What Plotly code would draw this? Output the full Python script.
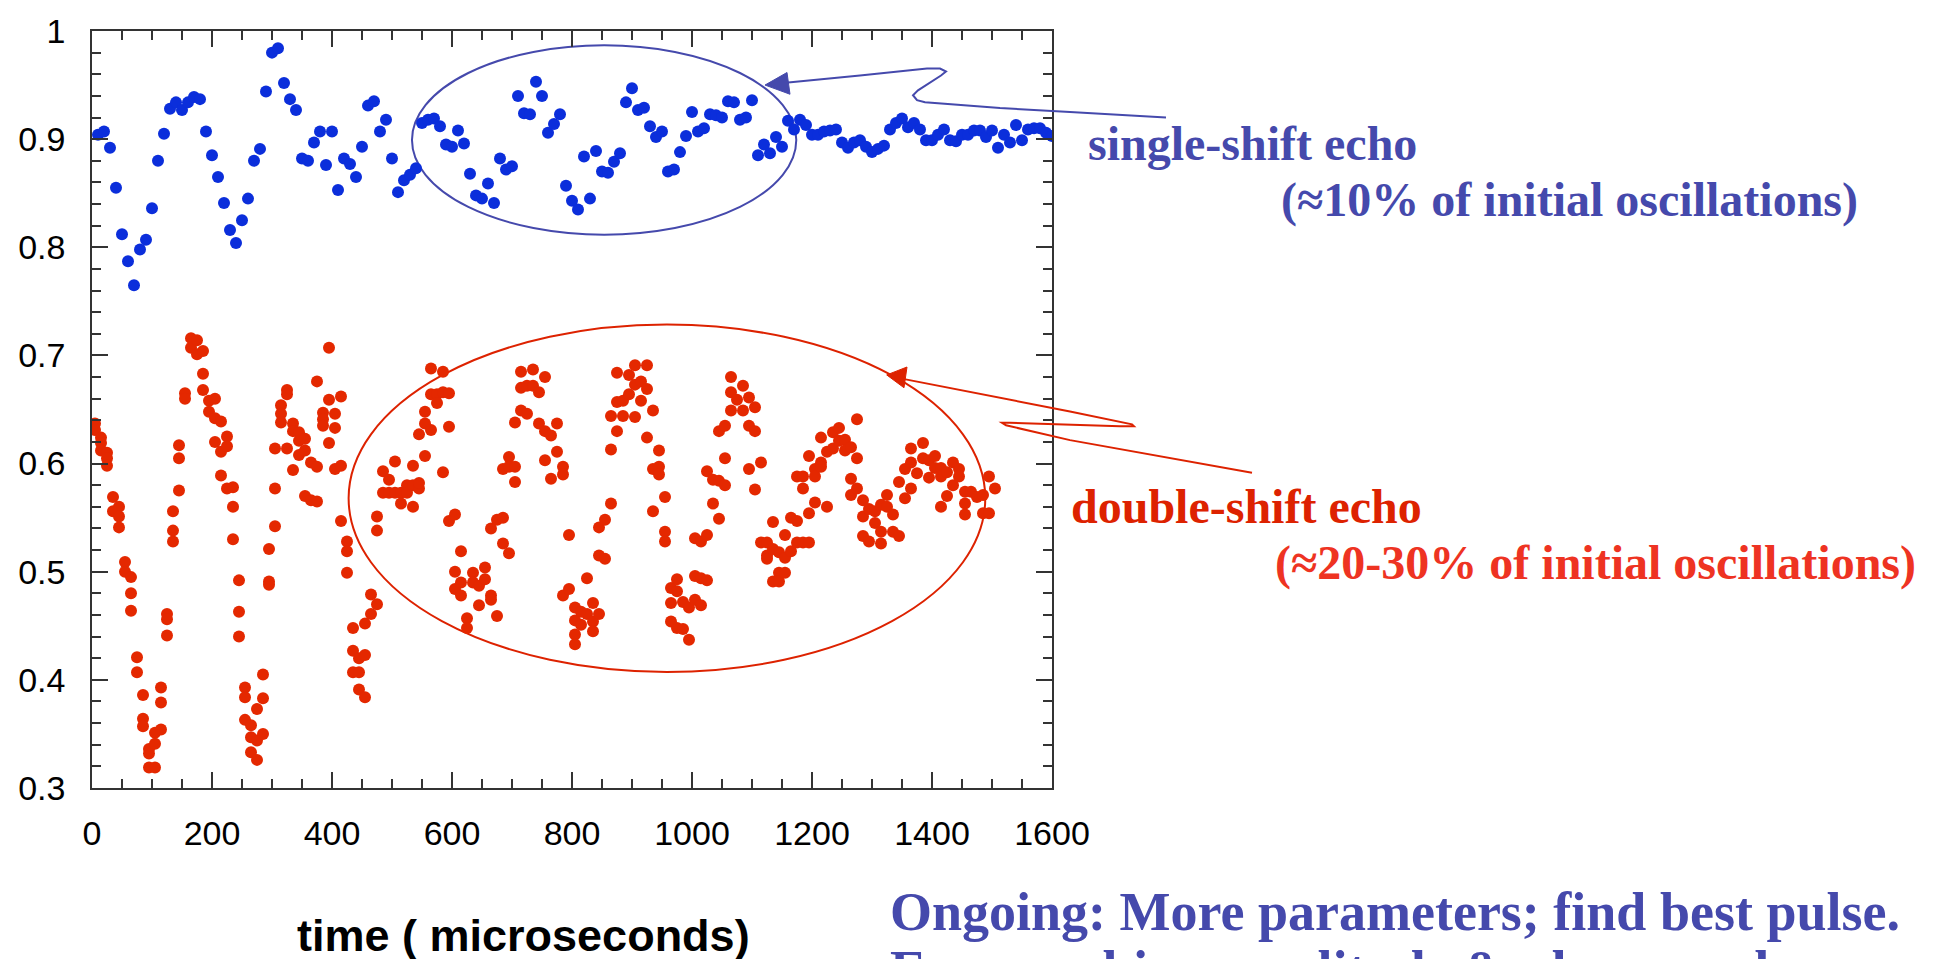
import plotly.graph_objects as go

# ---------------- data ----------------
blue_t = [10, 20, 30, 40, 50, 60, 70, 80, 90, 100, 110, 120, 130, 140, 150, 160, 170, 180, 190, 200,
          210, 220, 230, 240, 250, 260, 270, 280, 290, 300, 310, 320, 330, 340, 350, 360, 370, 380, 390, 400,
          410, 420, 430, 440, 450, 460, 470, 480, 490, 500, 510, 520, 530, 540, 550, 560, 570, 580, 590, 600,
          610, 620, 630, 640, 650, 660, 670, 680, 690, 700, 710, 720, 730, 740, 750, 760, 770, 780, 790, 800,
          810, 820, 830, 840, 850, 860, 870, 880, 890, 900, 910, 920, 930, 940, 950, 960, 970, 980, 990, 1000,
          1010, 1020, 1030, 1040, 1050, 1060, 1070, 1080, 1090, 1100, 1110, 1120, 1130, 1140, 1150, 1160, 1170, 1180, 1190, 1200,
          1210, 1220, 1230, 1240, 1250, 1260, 1270, 1280, 1290, 1300, 1310, 1320, 1330, 1340, 1350, 1360, 1370, 1380, 1390, 1400,
          1410, 1420, 1430, 1440, 1450, 1460, 1470, 1480, 1490, 1500, 1510, 1520, 1530, 1540, 1550, 1560, 1570, 1580, 1590, 1600]
blue_v = [0.904, 0.907, 0.892, 0.855, 0.812, 0.787, 0.765, 0.798, 0.807, 0.836, 0.880, 0.905, 0.928, 0.934, 0.927, 0.934, 0.939, 0.937, 0.907, 0.885,
          0.865, 0.841, 0.816, 0.804, 0.825, 0.845, 0.880, 0.891, 0.944, 0.980, 0.984, 0.952, 0.937, 0.927, 0.882, 0.880, 0.897, 0.907, 0.876, 0.907,
          0.853, 0.882, 0.877, 0.865, 0.893, 0.931, 0.935, 0.907, 0.918, 0.882, 0.851, 0.862, 0.867, 0.873, 0.915, 0.918, 0.919, 0.912, 0.895, 0.893,
          0.908, 0.896, 0.868, 0.848, 0.845, 0.859, 0.841, 0.882, 0.872, 0.875, 0.940, 0.924, 0.923, 0.953, 0.940, 0.906, 0.914, 0.923, 0.857, 0.843,
          0.835, 0.884, 0.845, 0.889, 0.870, 0.869, 0.879, 0.887, 0.934, 0.947, 0.927, 0.929, 0.912, 0.902, 0.907, 0.870, 0.872, 0.888, 0.903, 0.925,
          0.907, 0.910, 0.923, 0.922, 0.920, 0.935, 0.934, 0.918, 0.920, 0.936, 0.885, 0.895, 0.887, 0.902, 0.893, 0.917, 0.909, 0.918, 0.913, 0.904,
          0.904, 0.907, 0.908, 0.909, 0.897, 0.892, 0.897, 0.899, 0.893, 0.888, 0.891, 0.894, 0.909, 0.915, 0.919, 0.911, 0.915, 0.909, 0.899, 0.899,
          0.904, 0.909, 0.899, 0.898, 0.904, 0.904, 0.908, 0.908, 0.902, 0.908, 0.892, 0.904, 0.897, 0.913, 0.899, 0.909, 0.910, 0.910, 0.906, 0.903]

# red: measurement times and the values recorded at each time
red_cols = [5, 15, 25, 35, 45, 55, 65, 75, 85, 95, 105, 115, 125, 135, 145, 155, 165, 175, 185, 195,
            205, 215, 225, 235, 245, 255, 265, 275, 285, 295, 305, 315, 325, 335, 345, 355, 365, 375, 385, 395,
            405, 415, 425, 435, 445, 455, 465, 475, 485, 495, 505, 515, 525, 535, 545, 555, 565, 575, 585, 595,
            605, 615, 625, 635, 645, 655, 665, 675, 685, 695, 705, 715, 725, 735, 745, 755, 765, 775, 785, 795,
            805, 815, 825, 835, 845, 855, 865, 875, 885, 895, 905, 915, 925, 935, 945, 955, 965, 975, 985, 995,
            1005, 1015, 1025, 1035, 1045, 1055, 1065, 1075, 1085, 1095, 1105, 1115, 1125, 1135, 1145, 1155, 1165, 1175, 1185, 1195,
            1205, 1215, 1225, 1235, 1245, 1255, 1265, 1275, 1285, 1295, 1305, 1315, 1325, 1335, 1345, 1355, 1365, 1375, 1385, 1395,
            1405, 1415, 1425, 1435, 1445, 1455, 1465, 1475, 1485, 1495, 1505]
red_vals = [
    [0.637, 0.631], [0.624, 0.619, 0.612], [0.610, 0.605, 0.598], [0.569, 0.556], [0.560, 0.551, 0.541],
    [0.509, 0.500], [0.495, 0.480, 0.464], [0.421, 0.407], [0.386, 0.364, 0.357], [0.336, 0.332, 0.319],
    [0.319, 0.351, 0.341], [0.393, 0.379, 0.354], [0.461, 0.456, 0.441], [0.556, 0.538, 0.528], [0.617, 0.605, 0.575],
    [0.665, 0.660], [0.716, 0.707], [0.714, 0.701], [0.704, 0.683, 0.668], [0.658, 0.648],
    [0.660, 0.642, 0.620], [0.639, 0.611, 0.589], [0.625, 0.616, 0.577], [0.578, 0.560, 0.530], [0.492, 0.463, 0.440],
    [0.393, 0.384, 0.363], [0.358, 0.347, 0.333], [0.373, 0.344, 0.326], [0.405, 0.383, 0.350], [0.521, 0.491, 0.488],
    [0.614, 0.577, 0.542], [0.654, 0.646, 0.638], [0.668, 0.664, 0.614], [0.637, 0.630, 0.594], [0.629, 0.621, 0.608],
    [0.623, 0.612, 0.570], [0.601, 0.566], [0.676, 0.597, 0.565], [0.647, 0.641, 0.635], [0.707, 0.659, 0.619],
    [0.646, 0.633, 0.595], [0.662, 0.598, 0.547], [0.528, 0.519, 0.499], [0.448, 0.427, 0.407], [0.420, 0.407, 0.391],
    [0.452, 0.423, 0.384], [0.479, 0.461], [0.551, 0.538, 0.470], [0.593, 0.573], [0.585, 0.573],
    [0.602, 0.573], [0.573, 0.563], [0.580, 0.573], [0.598, 0.560, 0.580], [0.627, 0.577, 0.582],
    [0.648, 0.637, 0.607], [0.631, 0.688, 0.664], [0.664, 0.656], [0.666, 0.685, 0.592], [0.665, 0.634, 0.547],
    [0.553, 0.500, 0.484], [0.519, 0.478, 0.490], [0.457, 0.448], [0.499, 0.490], [0.487, 0.469],
    [0.504, 0.493], [0.478, 0.474, 0.540], [0.459, 0.548], [0.550, 0.526, 0.595], [0.517, 0.606, 0.597],
    [0.597, 0.583, 0.638], [0.685, 0.670, 0.649], [0.672, 0.646], [0.687, 0.672], [0.666, 0.637],
    [0.680, 0.630, 0.603], [0.626, 0.586], [0.637, 0.611], [0.597, 0.590, 0.478], [0.534, 0.484],
    [0.467, 0.455, 0.442, 0.433], [0.463, 0.451], [0.494, 0.461], [0.471, 0.454, 0.445], [0.461, 0.541, 0.515],
    [0.548, 0.512], [0.563, 0.613, 0.644], [0.630, 0.657, 0.684], [0.644, 0.658], [0.664, 0.682],
    [0.691, 0.673, 0.643], [0.676, 0.658], [0.691, 0.669, 0.624], [0.649, 0.595, 0.556], [0.612, 0.597, 0.590],
    [0.569, 0.537, 0.528], [0.485, 0.471, 0.454], [0.493, 0.482, 0.448], [0.472, 0.447], [0.467, 0.437],
    [0.496, 0.474, 0.531], [0.494, 0.469, 0.528], [0.492, 0.534, 0.593], [0.563, 0.585], [0.549, 0.584, 0.630],
    [0.580, 0.605, 0.635], [0.680, 0.666, 0.649], [0.659], [0.672, 0.649], [0.661, 0.635, 0.595],
    [0.652, 0.630, 0.576], [0.601, 0.527], [0.527, 0.515, 0.512], [0.546, 0.521, 0.491], [0.518, 0.499, 0.491],
    [0.499, 0.534, 0.513], [0.550, 0.519], [0.547, 0.527, 0.588], [0.527, 0.588, 0.577], [0.527, 0.554, 0.607],
    [0.564, 0.595, 0.588], [0.624, 0.601, 0.597], [0.560, 0.611], [0.629, 0.614], [0.633, 0.621],
    [0.622, 0.612], [0.615, 0.586, 0.571], [0.641, 0.605, 0.577], [0.566, 0.533, 0.551], [0.558, 0.528],
    [0.556, 0.545], [0.562, 0.537, 0.526], [0.571, 0.560], [0.553, 0.537], [0.533, 0.583],
    [0.595, 0.568], [0.614, 0.577, 0.601], [0.591], [0.619, 0.605], [0.603, 0.587],
    [0.607, 0.596], [0.596, 0.588, 0.560], [0.592, 0.570], [0.601, 0.580], [0.595, 0.588],
    [0.574, 0.563, 0.553], [0.574], [0.569], [0.571, 0.554], [0.588, 0.554], [0.577],
]

x_tickvals = [0, 200, 400, 600, 800, 1000, 1200, 1400, 1600]
y_tickvals = [0.3, 0.4, 0.5, 0.6, 0.7, 0.8, 0.9, 1.0]
y_ticktext = ["0.3", "0.4", "0.5", "0.6", "0.7", "0.8", "0.9", "1"]

red_t = [t for t, vs in zip(red_cols, red_vals) for _ in vs]
red_v = [v for vs in red_vals for v in vs]

# ---------------- layout geometry (pixels) ----------------
W, H = 1934, 959
L, R, T, B = 92, 882, 22, 171
PW, PH = W - L - R, H - T - B

def px(x):
    return (x - L) / PW

def py(y):
    return 1 - (y - T) / PH

BLUE_PT = "#0B2EDB"
RED_PT = "#E42800"
BLUE_TXT = "#4549AC"
RED_TXT = "#DD2200"
RED_TXT2 = "#EE3322"
AXC = "#333333"

fig = go.Figure()
fig.add_trace(go.Scatter(x=blue_t, y=blue_v, mode="markers",
                         marker=dict(size=12, color=BLUE_PT, line=dict(width=0)),
                         name="single-shift echo"))
fig.add_trace(go.Scatter(x=red_t, y=red_v, mode="markers",
                         marker=dict(size=12, color=RED_PT, line=dict(width=0)),
                         name="double-shift echo"))

axis_common = dict(showline=True, linecolor=AXC, linewidth=1.5, mirror="ticks",
                   ticks="inside", ticklen=16, tickwidth=1.5, tickcolor=AXC,
                   showgrid=False, zeroline=False,
                   tickfont=dict(family="Liberation Sans, Arial", size=34, color="black"))

fig.update_xaxes(range=[0, 1600], tickvals=x_tickvals, ticklabelstandoff=14,
                 minor=dict(ticks="inside", ticklen=9, tickwidth=1.5, tickcolor=AXC, dtick=50, tick0=0,
                            showgrid=False),
                 **axis_common)
fig.update_yaxes(range=[0.3, 1.0], tickvals=y_tickvals, ticktext=y_ticktext, ticklabelstandoff=18,
                 minor=dict(ticks="inside", ticklen=9, tickwidth=1.5, tickcolor=AXC, dtick=0.02, tick0=0,
                            showgrid=False),
                 **axis_common)

shapes = [
    dict(type="circle", xref="x", yref="y", x0=533.3, x1=1173.8, y0=0.8117, y1=0.9868,
         line=dict(color=BLUE_TXT, width=2), layer="below"),
    dict(type="circle", xref="x", yref="y", x0=427.7, x1=1488.8, y0=0.4073, y1=0.7285,
         line=dict(color=RED_TXT, width=2), layer="below"),
]

def path_from(points, close=False):
    s = "M " + " L ".join(f"{px(x):.5f},{py(y):.5f}" for x, y in points)
    return s + (" Z" if close else "")

# blue curly arrow
blue_line = [(783, 74.5), (860, 67), (927, 60), (940, 60), (946, 63), (941, 67), (918, 82),
             (913, 87), (917, 92), (925, 94), (1000, 100), (1070, 104), (1166, 109.5)]
shapes.append(dict(type="path", xref="paper", yref="paper", path=path_from(blue_line),
                   line=dict(color=BLUE_TXT, width=2)))
shapes.append(dict(type="path", xref="paper", yref="paper",
                   path=path_from([(765, 76.7), (787, 64), (790, 86)], close=True),
                   fillcolor=BLUE_TXT, line=dict(color=BLUE_TXT, width=1)))

# red curly arrow
red_line = [(903, 374), (1070, 407), (1132, 420), (1134, 422), (1120, 422), (1010, 418.5),
            (1002, 418.5), (1006, 421), (1070, 436), (1252, 469)]
shapes.append(dict(type="path", xref="paper", yref="paper", path=path_from(red_line),
                   line=dict(color=RED_TXT, width=2)))
shapes.append(dict(type="path", xref="paper", yref="paper",
                   path=path_from([(886.7, 370), (907, 362), (904, 383)], close=True),
                   fillcolor=RED_TXT, line=dict(color=RED_TXT, width=1)))

fig.update_layout(shapes=shapes)

SERIF = "Liberation Serif, Times New Roman, serif"

def ann(text, x, y, size, color, family=SERIF, xanchor="left"):
    fig.add_annotation(text=text, x=px(x), y=py(y), xref="paper", yref="paper",
                       xanchor=xanchor, yanchor="middle", showarrow=False,
                       font=dict(family=family, size=size, color=color))

ann("<b>single-shift echo</b>", 1086, 136, 48, BLUE_TXT)
ann("<b>(≈10% of initial oscillations)</b>", 1279, 193, 48, BLUE_TXT)
ann("<b>double-shift echo</b>", 1069, 503, 48, RED_TXT)
ann("<b>(≈20-30% of initial oscillations)</b>", 1273, 560, 48, RED_TXT2)
ann("<b>Ongoing: More parameters; find best pulse.</b>", 888, 913, 54, BLUE_TXT)
ann("<b>E.g., combine amplitude &amp; phase mod.</b>", 888, 972, 54, BLUE_TXT)
ann("<b>time ( microseconds)</b>", 523, 937, 45, "black",
    family="Liberation Sans, Arial", xanchor="center")

fig.update_layout(width=W, height=H, margin=dict(l=L, r=R, t=T, b=B, pad=0),
                  paper_bgcolor="white", plot_bgcolor="white", showlegend=False)

fig.write_html("out.html")
